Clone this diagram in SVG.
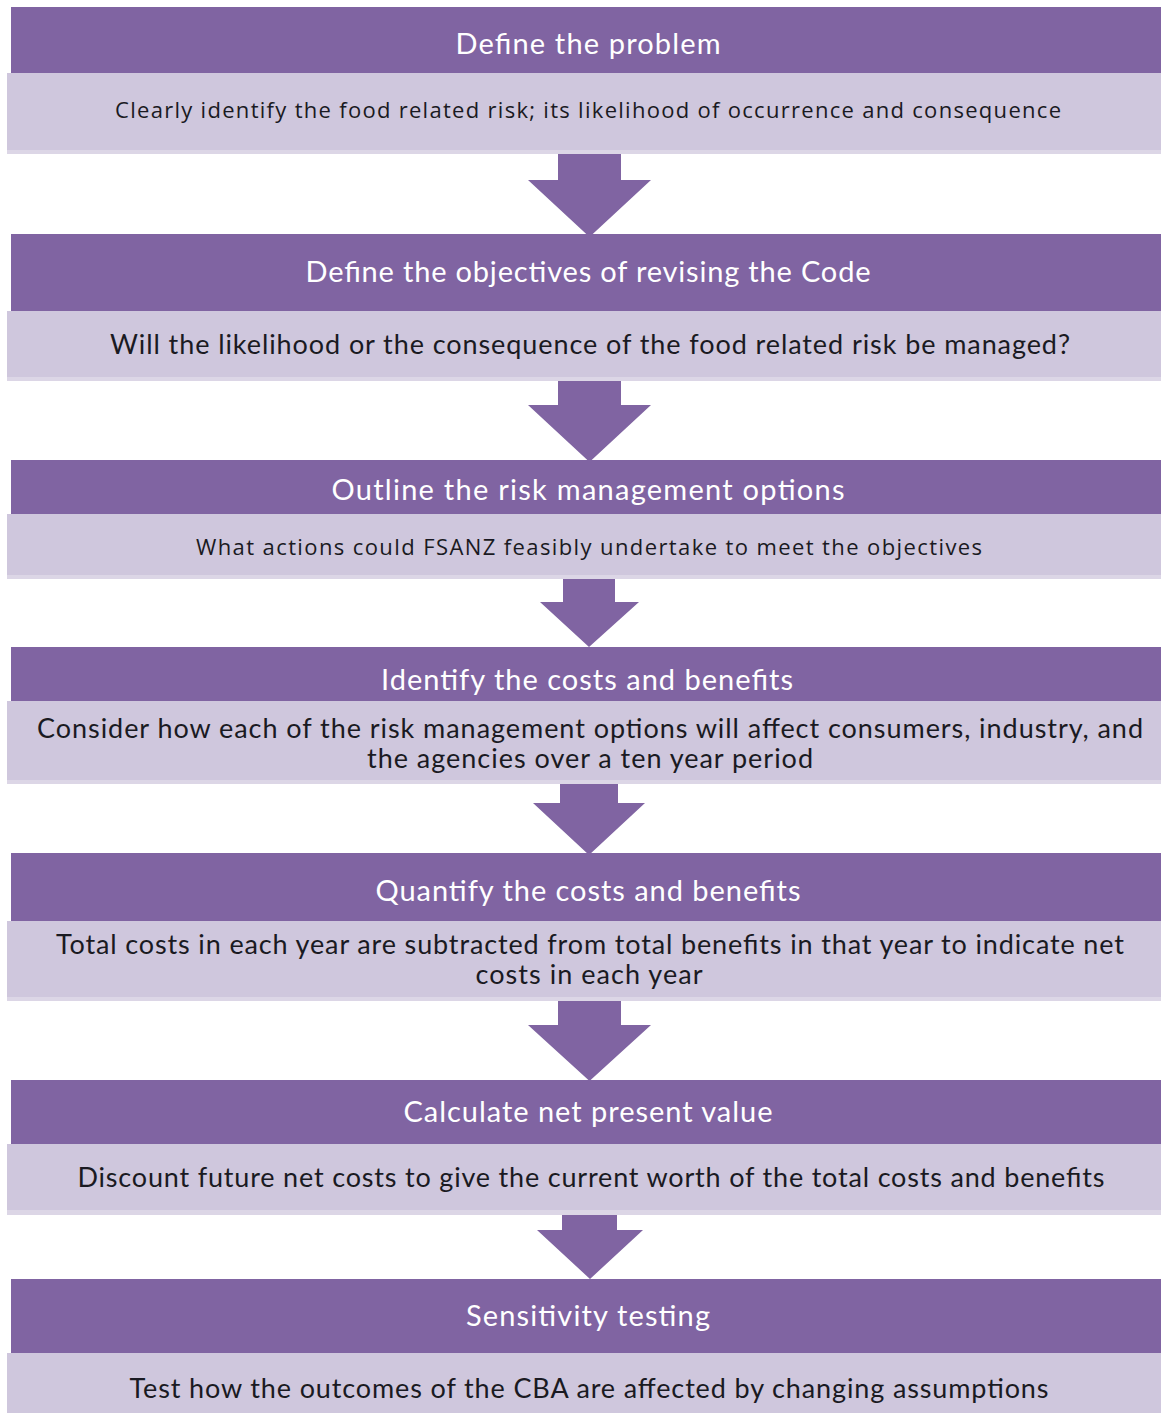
<svg xmlns="http://www.w3.org/2000/svg" width="1161" height="1413" viewBox="0 0 1161 1413">
<style>
.hd{fill:#8064A2}
.bd{fill:#CFC7DD}
.sh{fill:#DCD6E6}
.ar{fill:#8064A2}
.t{font-family:Lato,"Open Sans","DejaVu Sans",sans-serif;fill:#FFFFFF;font-size:29px;text-anchor:middle}
.b{font-family:Lato,"Open Sans","DejaVu Sans",sans-serif;fill:#1A1A22;font-size:27px;text-anchor:middle}
.s{font-family:"Open Sans","Noto Sans","DejaVu Sans",sans-serif;fill:#1A1A22;font-size:22px;text-anchor:middle}
</style>
<rect width="1161" height="1413" fill="#FFFFFF"/>
<g id="connectors">
<path class="ar" d="M558,153 H621 V180 H651 L589.5,237 L528,180 H558 Z"/>
<path class="ar" d="M558,380 H621 V405 H651 L589.5,462 L528,405 H558 Z"/>
<path class="ar" d="M563,578 H615 V602 H639 L589,647 L540,602 H563 Z"/>
<path class="ar" d="M560,783 H618 V803 H645 L589,855 L533,803 H560 Z"/>
<path class="ar" d="M558,1000 H621 V1025 H651 L589.5,1081 L528,1025 H558 Z"/>
<path class="ar" d="M562,1213 H617 V1230 H643 L590,1279 L537,1230 H562 Z"/>
</g>
<g id="step1">
<rect class="hd" x="11" y="7" width="1150" height="66"/>
<rect class="sh" x="7" y="73" width="1154" height="81"/>
<rect class="bd" x="7" y="73" width="1154" height="77"/>
<text class="t" x="588" y="54" textLength="265">Define the problem</text>
<text class="s" x="588" y="118" textLength="946">Clearly identify the food related risk; its likelihood of occurrence and consequence</text>
</g>
<g id="step2">
<rect class="hd" x="11" y="234" width="1150" height="77"/>
<rect class="sh" x="7" y="311" width="1154" height="70"/>
<rect class="bd" x="7" y="311" width="1154" height="66"/>
<text class="t" x="588" y="282" textLength="565">Define the objectives of revising the Code</text>
<text class="b" x="590" y="354" textLength="960">Will the likelihood or the consequence of the food related risk be managed?</text>
</g>
<g id="step3">
<rect class="hd" x="11" y="460" width="1150" height="54"/>
<rect class="sh" x="7" y="514" width="1154" height="65"/>
<rect class="bd" x="7" y="514" width="1154" height="61"/>
<text class="t" x="588" y="500" textLength="513">Outline the risk management options</text>
<text class="s" x="589" y="555" textLength="786">What actions could FSANZ feasibly undertake to meet the objectives</text>
</g>
<g id="step4">
<rect class="hd" x="11" y="647" width="1150" height="54"/>
<rect class="sh" x="7" y="701" width="1154" height="83"/>
<rect class="bd" x="7" y="701" width="1154" height="79"/>
<text class="t" x="587" y="690" textLength="412">Identify the costs and benefits</text>
<text class="b" x="590" y="738" textLength="1106">Consider how each of the risk management options will affect consumers, industry, and</text>
<text class="b" x="590" y="768" textLength="446">the agencies over a ten year period</text>
</g>
<g id="step5">
<rect class="hd" x="11" y="853" width="1150" height="68"/>
<rect class="sh" x="7" y="921" width="1154" height="80"/>
<rect class="bd" x="7" y="921" width="1154" height="76"/>
<text class="t" x="588" y="901" textLength="425">Quantify the costs and benefits</text>
<text class="b" x="590" y="954" textLength="1068">Total costs in each year are subtracted from total benefits in that year to indicate net</text>
<text class="b" x="589" y="984" textLength="227">costs in each year</text>
</g>
<g id="step6">
<rect class="hd" x="11" y="1080" width="1150" height="64"/>
<rect class="sh" x="7" y="1144" width="1154" height="71"/>
<rect class="bd" x="7" y="1144" width="1154" height="66"/>
<text class="t" x="588" y="1122" textLength="369">Calculate net present value</text>
<text class="b" x="591" y="1187" textLength="1027">Discount future net costs to give the current worth of the total costs and benefits</text>
</g>
<g id="step7">
<rect class="hd" x="11" y="1279" width="1150" height="74"/>
<rect class="bd" x="7" y="1353" width="1154" height="60"/>
<text class="t" x="588" y="1326" textLength="244">Sensitivity testing</text>
<text class="b" x="589" y="1398" textLength="919">Test how the outcomes of the CBA are affected by changing assumptions</text>
</g>
</svg>
